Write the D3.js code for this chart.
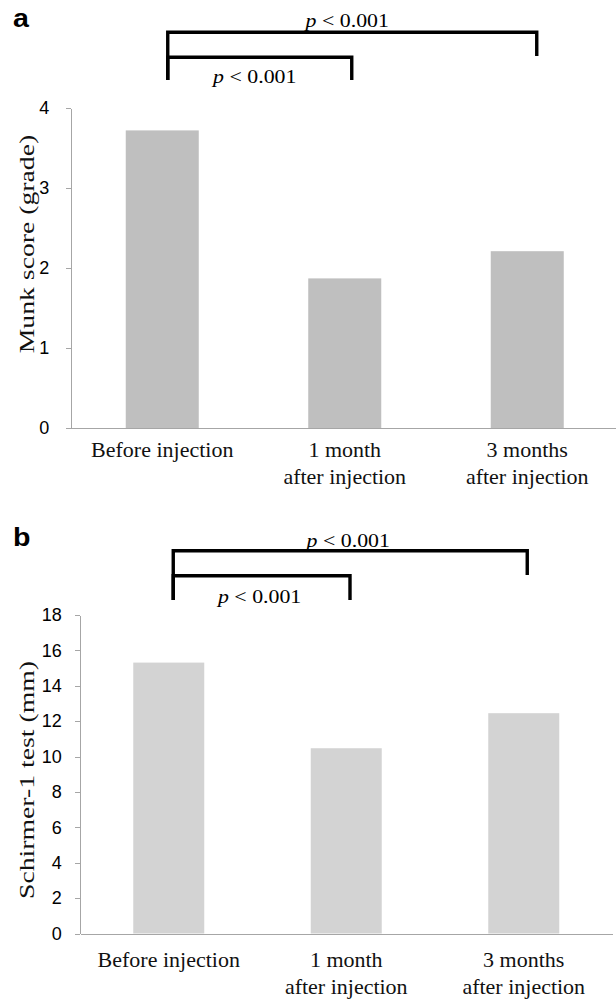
<!DOCTYPE html>
<html>
<head>
<meta charset="utf-8">
<script src="https://cdn.jsdelivr.net/npm/d3@7"></script>
<style>
body { margin: 0; background: #fff; }
</style>
</head>
<body>
<div id="chart-area"></div>
<script>

// Data
var categories = ["Before injection", "1 month\nafter injection", "3 months\nafter injection"];
var munkScores = [3.72, 1.87, 2.21];
var schirmerValues = [15.31, 10.47, 12.45];
var munkTicks = [0, 1, 2, 3, 4];
var schirmerTicks = [0, 2, 4, 6, 8, 10, 12, 14, 16, 18];
var comparisons = [[0, 1], [0, 2]];           // inner bracket, outer bracket
var pLabels = ["p < 0.001", "p < 0.001"];

var SX = 1.15;   // text in the source is a bit wider than our fonts
var serif = "'Liberation Serif', 'Times New Roman', serif";
var sans = "'Liberation Sans', Arial, sans-serif";

var svg = d3.select("#chart-area").append("svg")
    .attr("width", 616)
    .attr("height", 999);

// Panel layout
var panels = [
  {
    letter: "a", letterY: 27,
    values: munkScores, ticks: munkTicks, yMax: 4,
    xRange: [71, 618.5], yRange: [428, 108],
    fill: "#bfbfbf", title: "Munk score (grade)", titleY: 244,
    tickLabelX: -21.7, labelY: [29, 56],
    shift: [5.5, 7, 9.5], levels: [57.3, 32.3], leftFoot: 80, rightFoot: [80, 56],
    textY: [83, 26.7], textDx: -5
  },
  {
    letter: "b", letterY: 546,
    values: schirmerValues, ticks: schirmerTicks, yMax: 18,
    xRange: [80, 612.5], yRange: [933.5, 615],
    fill: "#d3d3d3", title: "Schirmer-1 test (mm)", titleY: 780,
    tickLabelX: -18.3, labelY: [33.5, 60.5],
    shift: [4.5, 3.75, 3.5], levels: [575.7, 550.7], leftFoot: 600, rightFoot: [600, 575],
    textY: [603.3, 546.7], textDx: -2
  }
];

panels.forEach(function(p) {

  var x = d3.scaleBand()
      .domain(categories)
      .range(p.xRange)
      .paddingInner(0.6)
      .paddingOuter(0.3);

  var y = d3.scaleLinear()
      .domain([0, p.yMax])
      .range(p.yRange);

  var g = svg.append("g");

  // bars
  g.selectAll("rect.bar")
      .data(p.values)
      .enter().append("rect")
      .attr("class", "bar")
      .attr("x", function(d, i) { return x(categories[i]); })
      .attr("y", function(d) { return y(d); })
      .attr("width", x.bandwidth())
      .attr("height", function(d) { return y(0) - y(d); })
      .attr("fill", p.fill);

  // y axis
  var yAxis = d3.axisLeft(y)
      .tickValues(p.ticks)
      .tickSizeInner(5)
      .tickSizeOuter(0)
      .tickPadding(-p.tickLabelX - 5)
      .tickFormat(d3.format("d"));

  var ya = g.append("g")
      .attr("transform", "translate(" + p.xRange[0] + ",0)")
      .call(yAxis);
  ya.selectAll("path, line").attr("stroke", "#a6a6a6").attr("shape-rendering", "crispEdges");
  ya.selectAll("text")
      .attr("fill", "#000")
      .style("font-family", sans)
      .style("font-size", "18px");

  // x axis (baseline only, labels drawn below)
  var xa = g.append("g")
      .attr("transform", "translate(0," + y(0) + ")")
      .call(d3.axisBottom(x).tickSize(0).tickFormat(""));
  xa.select("path").attr("stroke", "#a6a6a6").attr("shape-rendering", "crispEdges");

  // category labels
  var cats = g.selectAll("text.cat")
      .data(categories)
      .enter().append("text")
      .attr("class", "cat")
      .attr("transform", function(d) {
        return "translate(" + (x(d) + x.bandwidth() / 2) + "," + y(0) + ") scale(1.1,1)";
      })
      .attr("text-anchor", "middle")
      .style("font-family", serif)
      .style("font-size", "20px")
      .attr("fill", "#111");

  cats.each(function(d) {
    var t = d3.select(this);
    d.split("\n").forEach(function(line, k) {
      t.append("tspan").attr("x", 0).attr("y", p.labelY[k]).text(line);
    });
  });

  // y title
  g.append("text")
      .attr("transform", "translate(33.5," + p.titleY + ") rotate(-90) scale(1.26,1)")
      .attr("text-anchor", "middle")
      .style("font-family", serif)
      .style("font-size", "22px")
      .attr("fill", "#111")
      .text(p.title);

  // panel letter
  g.append("text")
      .attr("transform", "translate(13," + p.letterY + ") scale(1.1,1)")
      .style("font-family", sans)
      .style("font-weight", "bold")
      .style("font-size", "26px")
      .attr("fill", "#000")
      .text(p.letter);

  // significance brackets
  function cx(i) { return x(categories[i]) + x.bandwidth() / 2 + p.shift[i]; }

  comparisons.forEach(function(c, k) {
    var x0 = cx(c[0]), x1 = cx(c[1]);
    g.append("path")
        .attr("d", "M" + x0 + "," + p.leftFoot + "V" + p.levels[k] + "H" + x1 + "V" + p.rightFoot[k])
        .attr("fill", "none")
        .attr("stroke", "#000")
        .attr("stroke-width", 3.4);

    var label = g.append("text")
        .attr("transform", "translate(" + ((x0 + x1) / 2 + p.textDx) + "," + p.textY[k] + ") scale(" + SX + ",1)")
        .attr("text-anchor", "middle")
        .style("font-family", serif)
        .style("font-size", "19px")
        .attr("fill", "#000");
    var parts = pLabels[k].split(" ");
    label.append("tspan").style("font-style", "italic").text(parts[0]);
    label.append("tspan").text(" " + parts.slice(1).join(" "));
  });
});

</script>
</body>
</html>
